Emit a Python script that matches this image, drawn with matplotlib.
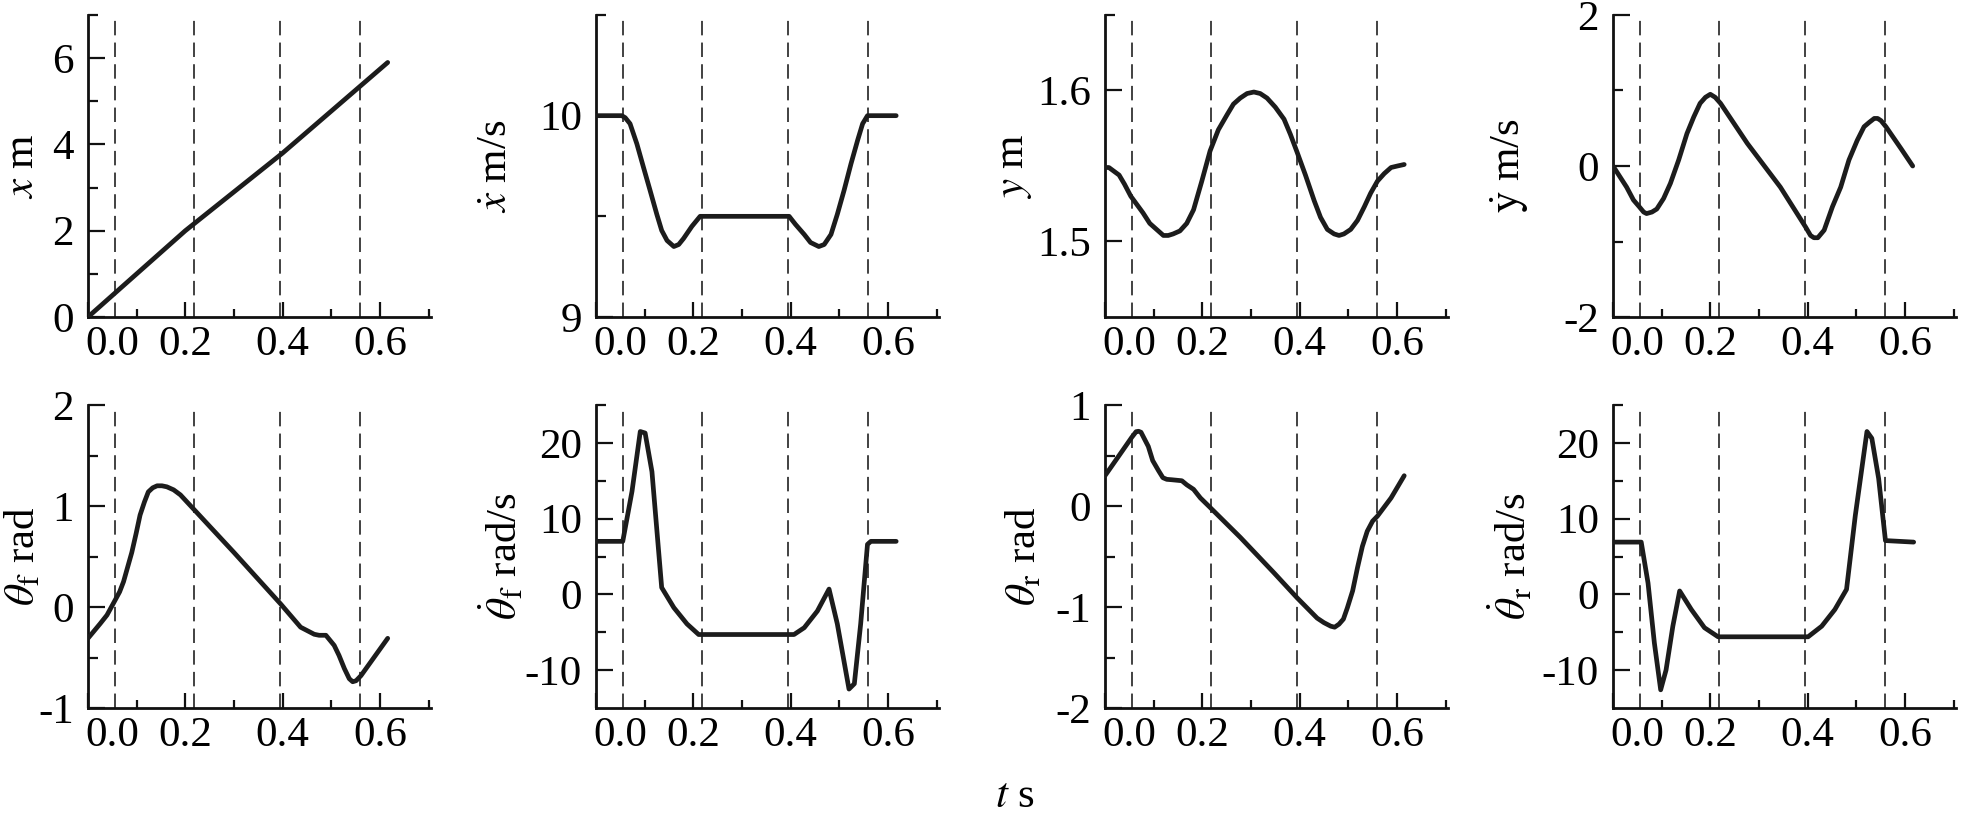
import matplotlib
matplotlib.use("Agg")
import matplotlib.pyplot as plt
from matplotlib.ticker import FixedLocator
from matplotlib.transforms import ScaledTranslation

plt.rcParams['font.family'] = ['Liberation Serif', 'DejaVu Serif']
plt.rcParams['mathtext.fontset'] = 'stix'
plt.rcParams['axes.unicode_minus'] = False

# ---------------- data ----------------
phase_t = [0.055, 0.217, 0.395, 0.56]
t_ticks = [0.0, 0.2, 0.4, 0.6]
t_minor = [0.1, 0.3, 0.5, 0.7]
t_ticklabels = ["0.0", "0.2", "0.4", "0.6"]

# x (m)
t_x = [0.0, 0.2, 0.4, 0.616]
x_pos = [0.0, 2.0, 3.8, 5.9]

# x dot (m/s)
t_xd = [0.0, 0.053, 0.060, 0.070, 0.084, 0.098, 0.111, 0.125, 0.135, 0.146, 0.160,
        0.170, 0.180, 0.197, 0.214, 0.397, 0.410, 0.428, 0.441, 0.458, 0.469, 0.483,
        0.496, 0.510, 0.524, 0.538, 0.548, 0.558, 0.617]
xd = [10.0, 10.0, 9.99, 9.96, 9.86, 9.74, 9.63, 9.51, 9.43, 9.38, 9.35,
      9.36, 9.39, 9.45, 9.50, 9.50, 9.46, 9.41, 9.37, 9.35, 9.36, 9.41,
      9.51, 9.63, 9.76, 9.88, 9.96, 10.0, 10.0]

# y (m)
t_y = [0.0, 0.008, 0.029, 0.040, 0.053, 0.078, 0.092, 0.106, 0.120, 0.130, 0.140,
       0.154, 0.168, 0.182, 0.199, 0.216, 0.233, 0.251, 0.264, 0.278, 0.292, 0.306,
       0.319, 0.333, 0.350, 0.368, 0.381, 0.395, 0.412, 0.430, 0.443, 0.457, 0.471,
       0.481, 0.491, 0.505, 0.519, 0.533, 0.546, 0.560, 0.574, 0.588, 0.601, 0.615]
y_pos = [1.549, 1.549, 1.544, 1.538, 1.530, 1.519, 1.512, 1.508, 1.504, 1.504, 1.505,
         1.507, 1.512, 1.521, 1.540, 1.560, 1.574, 1.584, 1.591, 1.595, 1.598, 1.599,
         1.598, 1.595, 1.589, 1.581, 1.571, 1.559, 1.544, 1.527, 1.516, 1.508, 1.505,
         1.504, 1.505, 1.508, 1.514, 1.523, 1.532, 1.540, 1.545, 1.549, 1.550, 1.551]

# y dot (m/s)
t_yd = [0.0, 0.028, 0.042, 0.054, 0.063, 0.069, 0.080, 0.090, 0.104, 0.118, 0.135,
        0.152, 0.166, 0.179, 0.190, 0.200, 0.210, 0.221, 0.276, 0.344, 0.396, 0.406,
        0.413, 0.421, 0.434, 0.451, 0.468, 0.485, 0.502, 0.516, 0.527, 0.537, 0.544,
        0.551, 0.561, 0.592, 0.616]
yd = [0.0, -0.28, -0.45, -0.54, -0.61, -0.63, -0.61, -0.57, -0.43, -0.23, 0.08,
      0.43, 0.65, 0.83, 0.91, 0.95, 0.91, 0.83, 0.30, -0.28, -0.81, -0.92,
      -0.95, -0.95, -0.85, -0.54, -0.28, 0.08, 0.34, 0.52, 0.58, 0.63, 0.63,
      0.60, 0.52, 0.23, 0.0]

# theta_f (rad)
t_thf = [0.0, 0.025, 0.039, 0.056, 0.065, 0.073, 0.090, 0.099, 0.107, 0.116, 0.124,
         0.133, 0.142, 0.152, 0.162, 0.176, 0.190, 0.217, 0.300, 0.396, 0.437, 0.465,
         0.475, 0.489, 0.506, 0.516, 0.527, 0.537, 0.544, 0.551, 0.561, 0.616]
thf = [-0.31, -0.165, -0.08, 0.07, 0.15, 0.25, 0.54, 0.73, 0.91, 1.04, 1.14,
       1.18, 1.20, 1.20, 1.19, 1.16, 1.11, 0.97, 0.54, 0.03, -0.20, -0.27,
       -0.28, -0.28, -0.38, -0.48, -0.61, -0.71, -0.74, -0.73, -0.68, -0.31]

# theta_f dot (rad/s)
t_thfd = [0.0, 0.055, 0.074, 0.091, 0.101, 0.115, 0.135, 0.160, 0.187, 0.211, 0.407,
          0.428, 0.455, 0.479, 0.496, 0.520, 0.531, 0.544, 0.558, 0.565, 0.617]
thfd = [7.0, 7.0, 13.6, 21.5, 21.3, 16.2, 0.9, -1.75, -3.9, -5.3, -5.3,
        -4.4, -2.2, 0.7, -3.9, -12.5, -11.8, -3.9, 6.6, 7.0, 7.0]

# theta_r (rad)
t_thr = [0.0, 0.029, 0.055, 0.064, 0.069, 0.074, 0.089, 0.098, 0.110, 0.119, 0.127,
         0.137, 0.158, 0.168, 0.182, 0.196, 0.213, 0.278, 0.347, 0.395, 0.436, 0.450,
         0.464, 0.472, 0.481, 0.490, 0.498, 0.509, 0.519, 0.529, 0.539, 0.550, 0.560,
         0.588, 0.615]
thr = [0.30, 0.50, 0.68, 0.736, 0.74, 0.73, 0.59, 0.45, 0.35, 0.28, 0.264,
       0.26, 0.25, 0.21, 0.165, 0.08, 0.0, -0.31, -0.66, -0.91, -1.11, -1.155,
       -1.19, -1.20, -1.17, -1.12, -1.01, -0.84, -0.61, -0.40, -0.25, -0.15, -0.10,
       0.08, 0.30]

# theta_r dot (rad/s)
t_thrd = [0.0, 0.058, 0.072, 0.085, 0.098, 0.109, 0.123, 0.137, 0.161, 0.188, 0.216,
          0.401, 0.429, 0.456, 0.480, 0.498, 0.522, 0.532, 0.546, 0.560, 0.618]
thrd = [6.9, 6.9, 1.5, -6.4, -12.6, -10.0, -4.2, 0.45, -2.0, -4.4, -5.6,
        -5.6, -4.2, -2.0, 0.66, 10.4, 21.5, 20.6, 15.3, 7.1, 6.9]

ylabels = ["$x$ m", r"$\dot{x}$ m/s", "$y$ m", r"$\dot{\mathrm{y}}$ m/s",
           r"$\theta_{\mathrm{f}}$ rad", r"$\dot{\theta}_{\mathrm{f}}$ rad/s",
           r"$\theta_{\mathrm{r}}$ rad", r"$\dot{\theta}_{\mathrm{r}}$ rad/s"]
series = [(t_x, x_pos), (t_xd, xd), (t_y, y_pos), (t_yd, yd),
          (t_thf, thf), (t_thfd, thfd), (t_thr, thr), (t_thrd, thrd)]
ylims = [(0, 7), (9, 10.5), (1.45, 1.65), (-2, 2),
         (-1, 2), (-15, 25), (-2, 1), (-15, 25)]
ymajor = [[0, 2, 4, 6], [9, 10], [1.5, 1.6], [-2, 0, 2],
          [-1, 0, 1, 2], [-10, 0, 10, 20], [-2, -1, 0, 1], [-10, 0, 10, 20]]
yticklabels = [["0", "2", "4", "6"], ["9", "10"], ["1.5", "1.6"], ["-2", "0", "2"],
               ["-1", "0", "1", "2"], ["-10", "0", "10", "20"], ["-2", "-1", "0", "1"],
               ["-10", "0", "10", "20"]]
yminor = [[1, 3, 5, 7], [9.5, 10.5], [1.65], [-1, 1],
          [-0.5, 0.5, 1.5], [-5, 5, 15, 25], [-1.5, -0.5, 0.5], [-5, 5, 15, 25]]

# ---------------- layout ----------------
W, H = 1961, 815
fig = plt.figure(figsize=(W / 100, H / 100), dpi=100)
lefts = [88, 596, 1105, 1613]
rows = [(15, 317), (405, 708)]
label_x = [-0.189, -0.288, -0.262, -0.30, -0.189, -0.273, -0.235, -0.297]
axw = 343

FS = 31
for i in range(8):
    r, c = divmod(i, 4)
    top, bot = rows[r]
    ax = fig.add_axes([lefts[c] / W, 1 - bot / H, axw / W, (bot - top) / H])
    tt, vv = series[i]
    ax.plot(tt, vv, color='#1c1c1c', lw=3.4, solid_joinstyle='round',
            solid_capstyle='round', zorder=3)
    for pt in phase_t:
        ax.axvline(pt, ymin=0, ymax=0.985, color='#333333', lw=1.3,
                   dashes=(8, 4), zorder=2)
    ax.set_xlim(0, 0.705)
    ax.set_ylim(*ylims[i])
    for s in ['top', 'right']:
        ax.spines[s].set_visible(False)
    for s in ['left', 'bottom']:
        ax.spines[s].set_linewidth(2.0)
        ax.spines[s].set_color('#111111')
    ax.xaxis.set_major_locator(FixedLocator(t_ticks))
    ax.xaxis.set_minor_locator(FixedLocator(t_minor))
    ax.set_xticklabels(t_ticklabels)
    ax.yaxis.set_major_locator(FixedLocator(ymajor[i]))
    ax.yaxis.set_minor_locator(FixedLocator(yminor[i]))
    ax.set_yticklabels(yticklabels[i])
    ax.tick_params(axis='x', which='major', direction='in', length=11, width=1.6,
                   labelsize=FS, pad=6, color='#111111')
    ax.tick_params(axis='x', which='minor', direction='in', length=5.5, width=1.6,
                   color='#111111')
    ax.tick_params(axis='y', which='major', direction='in', length=12, width=1.6,
                   labelsize=FS, pad=10, color='#111111')
    ax.tick_params(axis='y', which='minor', direction='in', length=7.5, width=1.6,
                   color='#111111')
    # first time label sits slightly to the right, as in the reference
    lab0 = ax.get_xticklabels()[0]
    lab0.set_transform(lab0.get_transform() + ScaledTranslation(0.24, 0, fig.dpi_scale_trans))
    ax.set_ylabel(ylabels[i], fontsize=31)
    ax.yaxis.set_label_coords(label_x[i], 0.5)
    ax.yaxis.label.set_va('center')

fig.text(1015 / W, 1 - 797 / H, "$t$ s", fontsize=31, ha='center', va='center')

fig.savefig("out.png", dpi=100, facecolor='white')
